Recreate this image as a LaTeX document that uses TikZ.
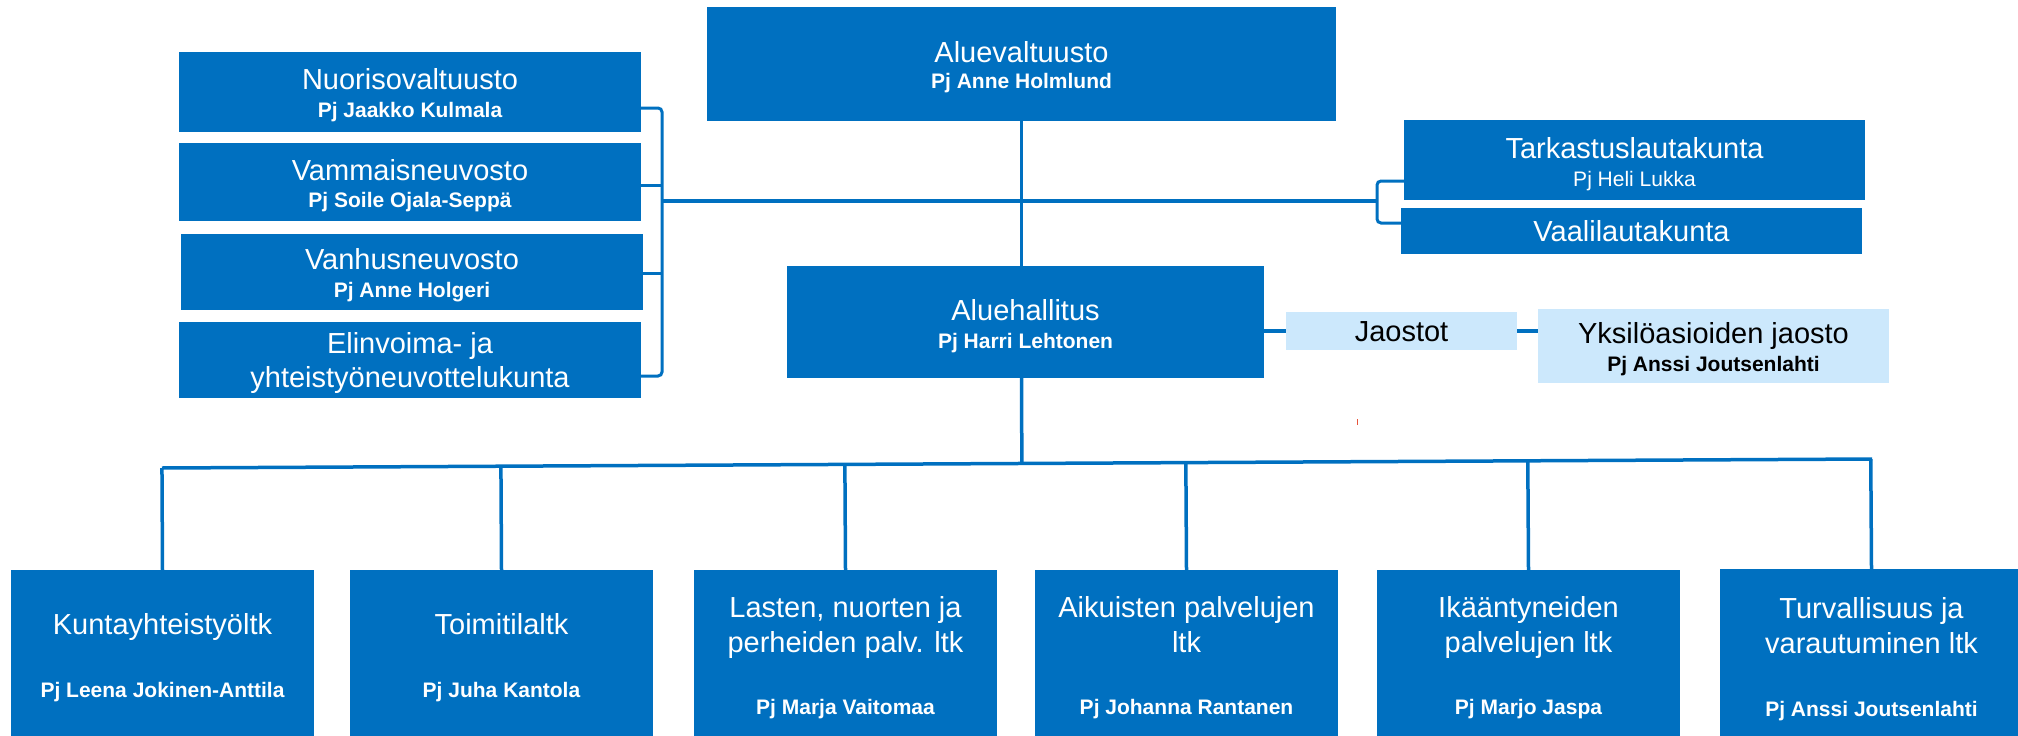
\documentclass[tikz,border=0pt]{standalone}
\usepackage{fontspec}
\setmainfont{Liberation Sans}
\usetikzlibrary{calc}
\definecolor{boxblue}{RGB}{0,112,192}
\definecolor{lightblue}{RGB}{204,232,252}
\definecolor{markred}{RGB}{232,84,58}
\begin{document}
\begin{tikzpicture}[x=1pt,y=-1pt,
  box/.style={fill=boxblue, draw=none, inner sep=0pt, outer sep=0pt, anchor=north west},
  lbox/.style={box, fill=lightblue},
  ttl/.style={font=\fontsize{29}{34}\selectfont, text=white, inner sep=0pt, anchor=base},
  sbb/.style={font=\fontsize{21}{25}\selectfont\bfseries, text=white, inner sep=0pt, anchor=base},
  sbr/.style={font=\fontsize{21}{25}\selectfont, text=white, inner sep=0pt, anchor=base},
  conn/.style={draw=boxblue, line width=3.5pt},
]
\useasboundingbox (0,0) rectangle (2018,736);
% ---------- boxes ----------
\node[box, minimum width=629, minimum height=114] (av) at (707,7) {};
\node[box, minimum width=462, minimum height=80] (nuori) at (179,52) {};
\node[box, minimum width=462, minimum height=78] (vamm) at (179,143) {};
\node[box, minimum width=462, minimum height=76] (vanh) at (181,234) {};
\node[box, minimum width=462, minimum height=76] (elin) at (179,322) {};
\node[box, minimum width=461, minimum height=80] (tark) at (1404,120) {};
\node[box, minimum width=461, minimum height=46] (vaali) at (1401,208) {};
\node[box, minimum width=477, minimum height=112] (ah) at (787,266) {};
\node[lbox, minimum width=231, minimum height=38] (jao) at (1286,312) {};
\node[lbox, minimum width=351, minimum height=74] (yks) at (1538,309) {};
\node[box, minimum width=303, minimum height=166] (b1) at (11,570) {};
\node[box, minimum width=303, minimum height=166] (b2) at (350,570) {};
\node[box, minimum width=303, minimum height=166] (b3) at (694,570) {};
\node[box, minimum width=303, minimum height=166] (b4) at (1035,570) {};
\node[box, minimum width=303, minimum height=166] (b5) at (1377,570) {};
\node[box, minimum width=303, minimum height=167] (b6) at (1720,569) {};
% ---------- texts ----------
\node[ttl] (avt) at ($(av.north)+(0,55)$) {Aluevaltuusto};
\node[sbb] (avs) at ($(av.north)+(0,81)$) {Pj Anne Holmlund};
\node[ttl] (nuorit) at ($(nuori.north)+(0,37)$) {Nuorisovaltuusto};
\node[sbb] (nuoris) at ($(nuori.north)+(0,65)$) {Pj Jaakko Kulmala};
\node[ttl] (vammt) at ($(vamm.north)+(0,37)$) {Vammaisneuvosto};
\node[sbb] (vamms) at ($(vamm.north)+(0,64)$) {Pj Soile Ojala-Seppä};
\node[ttl] (vanht) at ($(vanh.north)+(0,35)$) {Vanhusneuvosto};
\node[sbb] (vanhs) at ($(vanh.north)+(0,63)$) {Pj Anne Holgeri};
\node[ttl] (elint) at ($(elin.north)+(0,31)$) {Elinvoima- ja};
\node[ttl] (elinu) at ($(elin.north)+(0,65)$) {yhteistyöneuvottelukunta};
\node[ttl] (tarkt) at ($(tark.north)+(0,38)$) {Tarkastuslautakunta};
\node[sbr] (tarks) at ($(tark.north)+(0,66)$) {Pj Heli Lukka};
\node[ttl] (vaalit) at ($(vaali.north)+(0,33)$) {Vaalilautakunta};
\node[ttl] (aht) at ($(ah.north)+(0,54)$) {Aluehallitus};
\node[sbb] (ahs) at ($(ah.north)+(0,82)$) {Pj Harri Lehtonen};
\node[ttl, text=black] (jaot) at ($(jao.north)+(0,29)$) {Jaostot};
\node[ttl, text=black] (ykst) at ($(yks.north)+(0,34)$) {Yksilöasioiden jaosto};
\node[sbb, text=black] (ykss) at ($(yks.north)+(0,62)$) {Pj Anssi Joutsenlahti};
\node[ttl] (b1t) at ($(b1.north)+(0,64)$) {Kuntayhteistyöltk};
\node[sbb] (b1s) at ($(b1.north)+(0,127)$) {Pj Leena Jokinen-Anttila};
\node[ttl] (b2t) at ($(b2.north)+(0,64)$) {Toimitilaltk};
\node[sbb] (b2s) at ($(b2.north)+(0,127)$) {Pj Juha Kantola};
\node[ttl] (b3t) at ($(b3.north)+(0,47)$) {Lasten, nuorten ja};
\node[ttl] (b3u) at ($(b3.north)+(0,82)$) {perheiden palv. ltk};
\node[sbb] (b3s) at ($(b3.north)+(0,144)$) {Pj Marja Vaitomaa};
\node[ttl] (b4t) at ($(b4.north)+(0,47)$) {Aikuisten palvelujen};
\node[ttl] (b4u) at ($(b4.north)+(0,82)$) {ltk};
\node[sbb] (b4s) at ($(b4.north)+(0,144)$) {Pj Johanna Rantanen};
\node[ttl] (b5t) at ($(b5.north)+(0,47)$) {Ikääntyneiden};
\node[ttl] (b5u) at ($(b5.north)+(0,82)$) {palvelujen ltk};
\node[sbb] (b5s) at ($(b5.north)+(0,144)$) {Pj Marjo Jaspa};
\node[ttl] (b6t) at ($(b6.north)+(0,49)$) {Turvallisuus ja};
\node[ttl] (b6u) at ($(b6.north)+(0,84)$) {varautuminen ltk};
\node[sbb] (b6s) at ($(b6.north)+(0,147)$) {Pj Anssi Joutsenlahti};
% ---------- connectors ----------
\coordinate (lj) at (662,201);
\coordinate (rj) at (1377,201);
\coordinate (bL) at (162,468);
\coordinate (bR) at (1872,459);
\draw[conn] (av.south) -- (av.south |- ah.north);
\draw[conn] (lj) -- (rj);
\draw[conn, line width=3pt, rounded corners=4pt] ($(nuori.east)+(0,16)$) -| (lj) |- ($(elin.east)+(0,16)$);
\draw[conn, line width=3pt] ($(vamm.east)+(0,3)$) -- ($(vamm.east)+(21,3)$);
\draw[conn, line width=3pt] ($(vanh.east)+(0,1)$) -- ($(vanh.east)+(19,1)$);
\draw[conn, line width=3pt, rounded corners=4pt] ($(tark.west)+(0,21)$) -| (rj) |- ($(vaali.west)+(0,-8)$);
\draw[conn, line width=4pt] (ah.east |- jao.west) -- (jao.west);
\draw[conn, line width=4pt] (jao.east) -- (jao.east -| yks.west);
\draw[conn] ($(ah.south)+(-4,0)$) -- ($(bL)!($(ah.south)+(-4,0)$)!(bR)$);
\draw[conn] (bL) -- (bR);
\foreach \b in {b1,b2,b3,b4,b5,b6}{
  \draw[conn] (\b.north) -- ($(bL)!(\b.north)!(bR)$);
}
\draw[draw=markred, line width=1pt] (1357,419) -- (1357,425);
\end{tikzpicture}
\end{document}
